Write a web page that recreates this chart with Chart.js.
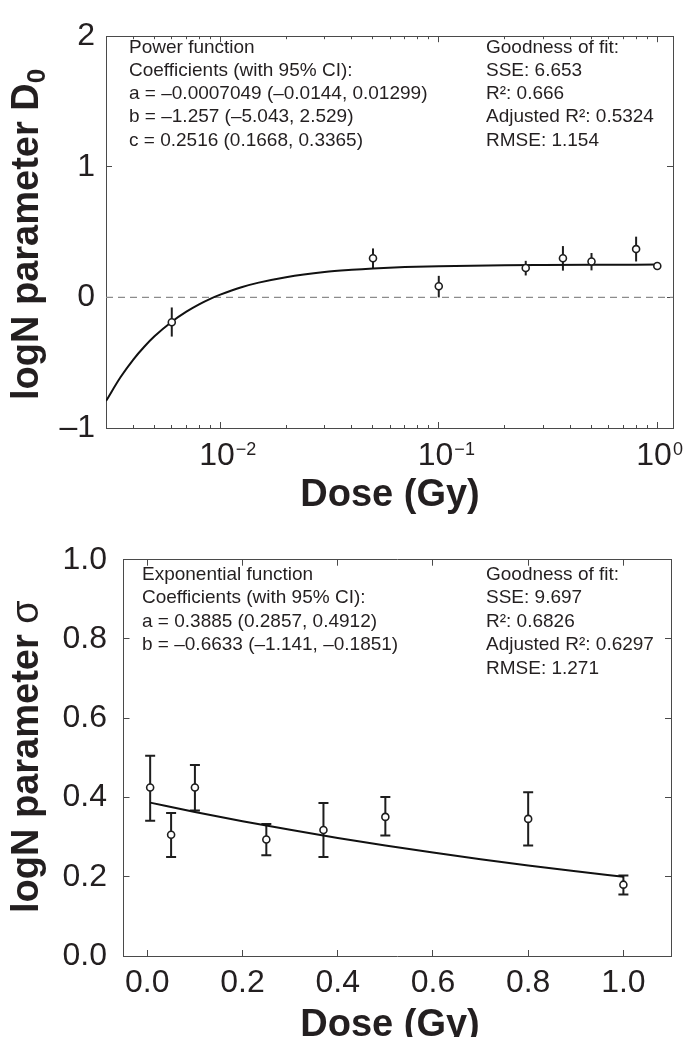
<!DOCTYPE html>
<html><head><meta charset="utf-8">
<script src="https://cdn.jsdelivr.net/npm/chart.js@4.4.1/dist/chart.umd.min.js"></script>
<style>
html,body{margin:0;padding:0;background:#fff;}
#wrap{position:relative;width:683px;height:1037px;overflow:hidden;background:#fff;}
canvas{position:absolute;left:0;}
#c1{top:0;} #c2{top:518px;}
</style></head><body>
<div id="wrap"><canvas id="c1" width="683" height="518"></canvas><canvas id="c2" width="683" height="519"></canvas></div>
<script>
// ---------- data ----------
const doses = [0.006, 0.05, 0.1, 0.25, 0.37, 0.5, 0.8, 1.0];

// top panel: logN parameter D0
const d0Values = [-0.19, 0.30, 0.085, 0.225, 0.30, 0.275, 0.37, 0.24];
const d0Upper  = [-0.077, 0.375, 0.165, 0.28, 0.393, 0.34, 0.465, 0.264];
const d0Lower  = [-0.30, 0.222, 0.0, 0.168, 0.205, 0.207, 0.275, 0.218];
const powerFitX = [0.003, 0.0035, 0.004, 0.0045, 0.005, 0.006, 0.007, 0.008, 0.009, 0.01, 0.0125, 0.015, 0.02, 0.03, 0.04, 0.05, 0.07, 0.1, 0.2, 0.3, 0.5, 1.0];
const powerFitY = [-0.794, -0.610, -0.476, -0.376, -0.298, -0.186, -0.109, -0.053, -0.011, 0.021, 0.078, 0.113, 0.155, 0.194, 0.211, 0.221, 0.232, 0.239, 0.246, 0.248, 0.250, 0.251];
const topXMin = 0.003, topXMax = 1.18;
const topMajorTicks = [0.01, 0.1, 1];
const topTickExponents = ['\u22122', '\u22121', '0'];
const topMinorTicks = [0.003,0.004,0.005,0.006,0.007,0.008,0.009,0.02,0.03,0.04,0.05,0.06,0.07,0.08,0.09,0.2,0.3,0.4,0.5,0.6,0.7,0.8,0.9];
const topYTicks = [-1, 0, 1, 2];
const topTextLeft = ['Power function', 'Coefficients (with 95% CI):', 'a = \u20130.0007049 (\u20130.0144, 0.01299)', 'b = \u20131.257 (\u20135.043, 2.529)', 'c = 0.2516 (0.1668, 0.3365)'];
const topTextRight = ['Goodness of fit:', 'SSE: 6.653', 'R\u00b2: 0.666', 'Adjusted R\u00b2: 0.5324', 'RMSE: 1.154'];

// bottom panel: logN parameter sigma
const sigmaValues = [0.425, 0.306, 0.425, 0.294, 0.318, 0.351, 0.346, 0.180];
const sigmaUpper  = [0.505, 0.361, 0.482, 0.333, 0.386, 0.401, 0.413, 0.203];
const sigmaLower  = [0.341, 0.250, 0.367, 0.254, 0.250, 0.304, 0.279, 0.155];
const expFitX = [0.006, 0.1, 0.2, 0.3, 0.4, 0.5, 0.6, 0.7, 0.8, 0.9, 1.0];
const expFitY = [0.387, 0.3636, 0.3402, 0.3184, 0.2979, 0.2788, 0.2609, 0.2442, 0.2285, 0.2138, 0.2001];
const botXTicks = [0, 0.2, 0.4, 0.6, 0.8, 1.0];
const botYTicks = [0, 0.2, 0.4, 0.6, 0.8, 1.0];
const botTextLeft = ['Exponential function', 'Coefficients (with 95% CI):', 'a = 0.3885 (0.2857, 0.4912)', 'b = \u20130.6633 (\u20131.141, \u20130.1851)'];
const botTextRight = ['Goodness of fit:', 'SSE: 9.697', 'R\u00b2: 0.6826', 'Adjusted R\u00b2: 0.6297', 'RMSE: 1.271'];

// ---------- styling ----------
const FAM = "'Liberation Sans', Arial, Helvetica, sans-serif";
const TXT = '#231f20';
const AX = '#4a4a4a';
const INK = '#1e1e1e';

function setTicks(list) { return a => { a.ticks = list.map(v => ({value: v})); }; }
function tickAxis(extra, list, len, showBorder) {
  return Object.assign({
    afterBuildTicks: setTicks(list),
    ticks: {display: false},
    grid: {drawOnChartArea: false, drawTicks: true, tickLength: len, tickColor: AX, tickWidth: 1},
    border: {display: showBorder, color: AX, width: 1}
  }, extra);
}

function errorBarPlugin(xs, lo, hi, cap, width) {
  return {
    id: 'errbars',
    beforeDatasetsDraw(chart) {
      const {ctx, scales} = chart;
      ctx.save();
      ctx.strokeStyle = INK; ctx.lineWidth = width; ctx.lineCap = 'butt';
      xs.forEach((xv, i) => {
        const px = scales.x.getPixelForValue(xv);
        const pl = scales.y.getPixelForValue(lo[i]);
        const ph = scales.y.getPixelForValue(hi[i]);
        ctx.beginPath();
        ctx.moveTo(px, pl); ctx.lineTo(px, ph);
        if (cap) {
          ctx.moveTo(px - cap, pl); ctx.lineTo(px + cap, pl);
          ctx.moveTo(px - cap, ph); ctx.lineTo(px + cap, ph);
        }
        ctx.stroke();
      });
      ctx.restore();
    }
  };
}

function drawLines(ctx, lines, x, y0, step) {
  ctx.font = '19px ' + FAM;
  ctx.fillStyle = TXT; ctx.textAlign = 'left'; ctx.textBaseline = 'alphabetic';
  lines.forEach((t, i) => ctx.fillText(t, x, y0 + i * step));
}
function drawRotated(ctx, x, yStart, parts) {
  ctx.save();
  ctx.translate(x, yStart);
  ctx.rotate(-Math.PI / 2);
  ctx.fillStyle = TXT; ctx.textAlign = 'left'; ctx.textBaseline = 'alphabetic';
  let cx = 0;
  parts.forEach(p => { ctx.font = p.font; ctx.fillText(p.text, cx, p.dy || 0); cx += ctx.measureText(p.text).width; });
  ctx.restore();
}
function drawXTitle(ctx, cx, base) {
  ctx.font = 'bold 38px ' + FAM;
  ctx.fillStyle = TXT; ctx.textAlign = 'center'; ctx.textBaseline = 'alphabetic';
  ctx.fillText('Dose (Gy)', cx, base);
}

const topText = {
  id: 'topText',
  afterDraw(chart) {
    const ctx = chart.ctx;
    ctx.save();
    drawLines(ctx, topTextLeft, 129, 52.5, 23.3);
    drawLines(ctx, topTextRight, 486, 52.5, 23.3);
    // log tick labels 10^n
    topMajorTicks.forEach((v, i) => {
      const px = chart.scales.x.getPixelForValue(v);
      ctx.font = '32px ' + FAM; ctx.textAlign = 'left'; ctx.fillStyle = TXT;
      const x0 = px - 21;
      ctx.fillText('10', x0, 465);
      const w = ctx.measureText('10').width;
      ctx.font = '18px ' + FAM;
      ctx.fillText(topTickExponents[i], x0 + w + 1, 455);
    });
    drawXTitle(ctx, 390, 506);
    drawRotated(ctx, 38, 400, [
      {text: 'logN parameter D', font: 'bold 38px ' + FAM},
      {text: '0', font: 'bold 26px ' + FAM, dy: 7}
    ]);
    ctx.restore();
  }
};
const botText = {
  id: 'botText',
  afterDraw(chart) {
    const ctx = chart.ctx;
    ctx.save();
    drawLines(ctx, botTextLeft, 142, 62, 23.4);
    drawLines(ctx, botTextRight, 486, 62, 23.4);
    drawXTitle(ctx, 390, 518);
    drawRotated(ctx, 38, 395, [
      {text: 'logN parameter ', font: 'bold 38px ' + FAM},
      {text: '\u03c3', font: '38px ' + FAM}
    ]);
    ctx.restore();
  }
};

const common = {
  responsive: false, animation: false, devicePixelRatio: 1,
  plugins: {legend: {display: false}, tooltip: {enabled: false}},
  elements: {point: {hoverRadius: 3.5}}
};

// ---------- top chart ----------
new Chart(document.getElementById('c1'), {
  type: 'scatter',
  data: {datasets: [
    {label: 'D0', data: doses.map((d, i) => ({x: d, y: d0Values[i]})), showLine: false,
     pointRadius: 3.5, pointBorderWidth: 1.6, pointBorderColor: INK, pointBackgroundColor: '#fff', order: 0},
    {label: 'power fit', data: powerFitX.map((x, i) => ({x, y: powerFitY[i]})), showLine: true, pointRadius: 0,
     borderColor: '#111', borderWidth: 2, cubicInterpolationMode: 'monotone', order: 1},
    {label: 'zero', data: [{x: topXMin, y: 0}, {x: topXMax, y: 0}], showLine: true, pointRadius: 0,
     borderColor: '#8c8c8c', borderWidth: 1.2, borderDash: [7, 5], order: 2}
  ]},
  options: Object.assign({}, common, {
    layout: {padding: {left: 0, top: 23, right: 10, bottom: 90}},
    scales: {
      x: tickAxis({type: 'logarithmic', position: 'bottom', min: topXMin, max: topXMax, afterFit: a => { a.height = 0; }}, topMajorTicks, -6, true),
      xm: tickAxis({type: 'logarithmic', position: 'bottom', min: topXMin, max: topXMax, afterFit: a => { a.height = 0; }}, topMinorTicks, -3, false),
      xt: tickAxis({type: 'logarithmic', position: 'top', min: topXMin, max: topXMax, afterFit: a => { a.height = 0; }}, topMajorTicks, -6, true),
      xtm: tickAxis({type: 'logarithmic', position: 'top', min: topXMin, max: topXMax, afterFit: a => { a.height = 0; }}, topMinorTicks, -3, false),
      y: {
        type: 'linear', position: 'left', min: -1, max: 2,
        afterBuildTicks: setTicks(topYTicks),
        afterFit: a => { a.width = 106; },
        ticks: {color: TXT, font: {family: FAM, size: 32}, padding: 17,
                callback: v => (v < 0 ? '\u2013' + Math.abs(v) : String(v))},
        grid: {drawOnChartArea: false, drawTicks: true, tickLength: -6, tickColor: AX},
        border: {display: true, color: AX, width: 1}
      },
      yr: tickAxis({type: 'linear', position: 'right', min: -1, max: 2, afterFit: a => { a.width = 0; }}, topYTicks, -6, true)
    }
  }),
  plugins: [errorBarPlugin(doses, d0Lower, d0Upper, 0, 2), topText]
});

// ---------- bottom chart ----------
new Chart(document.getElementById('c2'), {
  type: 'scatter',
  data: {datasets: [
    {label: 'sigma', data: doses.map((d, i) => ({x: d, y: sigmaValues[i]})), showLine: false,
     pointRadius: 3.5, pointBorderWidth: 1.6, pointBorderColor: INK, pointBackgroundColor: '#fff', order: 0},
    {label: 'exp fit', data: expFitX.map((x, i) => ({x, y: expFitY[i]})), showLine: true, pointRadius: 0,
     borderColor: '#111', borderWidth: 2, cubicInterpolationMode: 'monotone', order: 1}
  ]},
  options: Object.assign({}, common, {
    layout: {padding: {left: 0, top: 34, right: 12, bottom: 0}},
    scales: {
      x: {
        type: 'linear', position: 'bottom', min: -0.05, max: 1.1,
        afterBuildTicks: setTicks(botXTicks),
        afterFit: a => { a.height = 81; },
        ticks: {color: TXT, font: {family: FAM, size: 32}, padding: 13.5, maxRotation: 0, autoSkip: false,
                callback: v => Number(v).toFixed(1)},
        grid: {drawOnChartArea: false, drawTicks: true, tickLength: -6, tickColor: AX},
        border: {display: true, color: AX, width: 1}
      },
      xt: tickAxis({type: 'linear', position: 'top', min: -0.05, max: 1.1, afterFit: a => { a.height = 0; }}, botXTicks, -6, true),
      y: {
        type: 'linear', position: 'left', min: 0, max: 1,
        afterBuildTicks: setTicks(botYTicks),
        afterFit: a => { a.width = 123.5; },
        ticks: {color: TXT, font: {family: FAM, size: 32}, padding: 22.5,
                callback: v => Number(v).toFixed(1)},
        grid: {drawOnChartArea: false, drawTicks: true, tickLength: -6, tickColor: AX},
        border: {display: true, color: AX, width: 1}
      },
      yr: tickAxis({type: 'linear', position: 'right', min: 0, max: 1, afterFit: a => { a.width = 0; }}, botYTicks, -6, true)
    }
  }),
  plugins: [errorBarPlugin(doses, sigmaLower, sigmaUpper, 5, 2), botText]
});
</script>
</body></html>
